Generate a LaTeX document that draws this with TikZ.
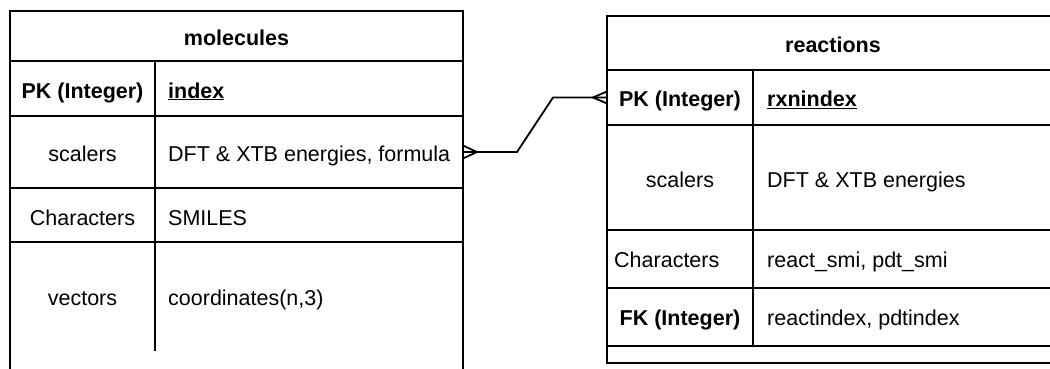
\documentclass[tikz,border=0pt]{standalone}
\usepackage{fontspec}
\setmainfont{Liberation Sans}
\begin{document}
\begin{tikzpicture}[x=1pt,y=-1pt,
  rule/.style={line width=1.8pt},
  cell/.style={font=\fontsize{21.5}{26}\selectfont, inner sep=0pt, anchor=base},
  keycell/.style={cell, font=\fontsize{21.5}{26}\selectfont\bfseries},
  valcell/.style={cell, anchor=base west},
  link/.style={line width=1.8pt, line join=miter}]
\useasboundingbox (0,0) rectangle (1050,368);

% ---------- molecules table ----------
\draw[rule] (10,400) -- (10,11) -- (463,11) -- (463,400);
\draw[rule] (10,61) -- (463,61);
\draw[rule] (10,116) -- (463,116);
\draw[rule] (10,188) -- (463,188);
\draw[rule] (10,242) -- (463,242);
\draw[rule] (155,61) -- (155,351);

\node[keycell] (mtitle) at (236.5,45) {molecules};
\node[keycell] (mpk) at (82.5,98) {PK (Integer)};
\node[valcell, font=\fontsize{21.5}{26}\selectfont\bfseries] (mpkv) at (168,98) {\underline{index}};
\node[cell] (msc) at (82.5,161.5) {scalers};
\node[valcell] (mscv) at (168,161.5) {DFT \& XTB energies, formula};
\node[cell] (mch) at (82.5,225) {Characters};
\node[valcell] (mchv) at (168,225) {SMILES};
\node[cell] (mvec) at (82.5,305) {vectors};
\node[valcell] (mvecv) at (168,305) {coordinates(n,3)};

% ---------- reactions table ----------
\draw[rule] (1070,16) -- (607,16) -- (607,363) -- (1070,363);
\draw[rule] (607,70) -- (1070,70);
\draw[rule] (607,125) -- (1070,125);
\draw[rule] (607,230) -- (1070,230);
\draw[rule] (607,288) -- (1070,288);
\draw[rule] (607,346) -- (1070,346);
\draw[rule] (753,70) -- (753,346);

\node[keycell] (rtitle) at (833,52) {reactions};
\node[keycell] (rpk) at (680,106.5) {PK (Integer)};
\node[valcell, font=\fontsize{21.5}{26}\selectfont\bfseries] (rpkv) at (767,106.5) {\underline{rxnindex}};
\node[cell] (rsc) at (680,187) {scalers};
\node[valcell] (rscv) at (767,187) {DFT \& XTB energies};
\node[valcell] (rch) at (614,267.5) {Characters};
\node[valcell] (rchv) at (767,267.5) {react\_smi, pdt\_smi};
\node[keycell] (rfk) at (680,325.5) {FK (Integer)};
\node[valcell] (rfkv) at (767,325.5) {reactindex, pdtindex};

% ---------- relationship (many to many) ----------
\coordinate (mend) at (463,152);
\coordinate (rend) at (607,97.5);
\draw[link] (mend) -- (517,152) -- (553,97.5) -- (rend);
% crow's feet
\draw[link] (463,145.5) -- (477,152) -- (463,158.5);
\draw[link] (rend |- 0,91.5) -- (593,97.5) -- (rend |- 0,103.5);
\end{tikzpicture}
\end{document}
